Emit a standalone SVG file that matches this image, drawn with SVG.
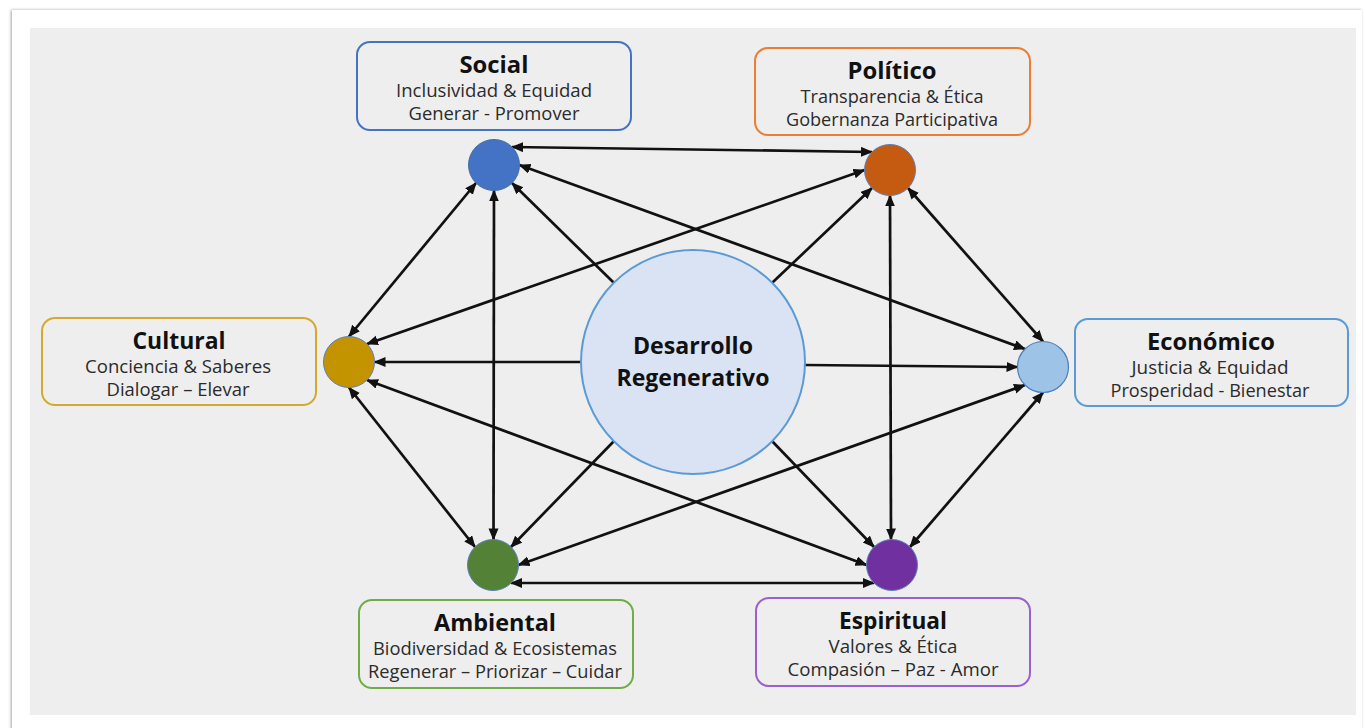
<svg xmlns="http://www.w3.org/2000/svg" width="1365" height="728" viewBox="0 0 1365 728">
<defs>
<marker id="ah" markerUnits="userSpaceOnUse" markerWidth="14" markerHeight="12" refX="11" refY="5" orient="auto-start-reverse">
<path d="M0,0 L12,5 L0,10 z" fill="#111"/>
</marker>
<filter id="sh" x="-2%" y="-2%" width="104%" height="104%">
<feDropShadow dx="-1" dy="0" stdDeviation="1.5" flood-color="#000" flood-opacity="0.35"/>
</filter>
</defs>
<style>
.box{fill:none;stroke-width:2;}
.t{font-family:"Open Sans","Noto Sans","DejaVu Sans",sans-serif;font-weight:bold;font-size:23px;fill:#111;text-anchor:middle;}
.s{font-family:"Open Sans","Noto Sans","DejaVu Sans",sans-serif;font-size:18px;fill:#2b2b2b;text-anchor:middle;}
.c{font-family:"Open Sans","Noto Sans","DejaVu Sans",sans-serif;font-weight:bold;font-size:24px;fill:#111;text-anchor:middle;}
.bi{stroke:#111;stroke-width:2.7;fill:none;marker-start:url(#ah);marker-end:url(#ah);}
.sp{stroke:#111;stroke-width:2.7;fill:none;marker-end:url(#ah);}
</style>
<rect x="0" y="0" width="1365" height="728" fill="#ffffff"/>
<rect x="12" y="10" width="1350" height="730" fill="#ffffff" filter="url(#sh)"/>
<rect x="30" y="28" width="1326" height="687" fill="#eeeeee"/>

<g id="connectors">
<line class="bi" x1="512" y1="147" x2="872" y2="152"/>
<line class="bi" x1="476" y1="183" x2="349" y2="336.5"/>
<line class="bi" x1="519.5" y1="165" x2="1025" y2="349"/>
<line class="bi" x1="494" y1="190.5" x2="493.5" y2="539.5"/>
<line class="bi" x1="864.5" y1="170" x2="367" y2="344"/>
<line class="bi" x1="908" y1="188" x2="1043" y2="341.5"/>
<line class="bi" x1="890" y1="195.5" x2="891" y2="539.5"/>
<line class="bi" x1="367" y1="380" x2="866.5" y2="565"/>
<line class="bi" x1="349" y1="387.5" x2="475" y2="547"/>
<line class="bi" x1="1025" y1="385" x2="518.5" y2="565"/>
<line class="bi" x1="1043" y1="392.5" x2="910" y2="547"/>
<line class="bi" x1="511" y1="583" x2="874" y2="583"/>
<line class="sp" x1="613.8" y1="282.8" x2="512" y2="183"/>
<line class="sp" x1="772.2" y1="282.8" x2="872" y2="188"/>
<line class="sp" x1="581" y1="362" x2="374.5" y2="362"/>
<line class="sp" x1="805" y1="365" x2="1017.5" y2="367"/>
<line class="sp" x1="613.8" y1="441.2" x2="511" y2="547"/>
<line class="sp" x1="772.2" y1="441.2" x2="874" y2="547"/>
</g>

<g id="center">
<circle cx="693" cy="362" r="112" fill="#dae3f3" stroke="#5b9bd5" stroke-width="2"/>
<text class="c" x="693" y="354" textLength="120" lengthAdjust="spacingAndGlyphs">Desarrollo</text>
<text class="c" x="693" y="386" textLength="153" lengthAdjust="spacingAndGlyphs">Regenerativo</text>
</g>

<g id="social">
<circle cx="494" cy="165" r="25.5" fill="#4472c4" stroke="#41719c" stroke-width="1"/>
<rect class="box" x="357" y="42" width="274" height="88" rx="13" stroke="#4472c4"/>
<text class="t" x="494" y="73" textLength="69" lengthAdjust="spacingAndGlyphs">Social</text>
<text class="s" x="494" y="97" textLength="196" lengthAdjust="spacingAndGlyphs">Inclusividad &amp; Equidad</text>
<text class="s" x="494" y="120" textLength="171" lengthAdjust="spacingAndGlyphs">Generar - Promover</text>
</g>

<g id="politico">
<circle cx="890" cy="170" r="25.5" fill="#c55a11" stroke="#5b7fb8" stroke-width="1"/>
<rect class="box" x="755" y="48" width="275" height="87" rx="13" stroke="#ed7d31"/>
<text class="t" x="892" y="79" textLength="89" lengthAdjust="spacingAndGlyphs">Político</text>
<text class="s" x="892" y="103" textLength="183" lengthAdjust="spacingAndGlyphs">Transparencia &amp; Ética</text>
<text class="s" x="892" y="126" textLength="212" lengthAdjust="spacingAndGlyphs">Gobernanza Participativa</text>
</g>

<g id="cultural">
<circle cx="349" cy="362" r="25.5" fill="#c49300" stroke="#5b7fb8" stroke-width="1"/>
<rect class="box" x="42" y="318" width="274" height="87" rx="13" stroke="#d4aa2e"/>
<text class="t" x="179" y="349" textLength="93" lengthAdjust="spacingAndGlyphs">Cultural</text>
<text class="s" x="178" y="373" textLength="186" lengthAdjust="spacingAndGlyphs">Conciencia &amp; Saberes</text>
<text class="s" x="178" y="396" textLength="143" lengthAdjust="spacingAndGlyphs">Dialogar – Elevar</text>
</g>

<g id="economico">
<circle cx="1043" cy="367" r="25.5" fill="#9dc3e6" stroke="#4a7ebb" stroke-width="1.2"/>
<rect class="box" x="1075" y="319" width="273" height="87" rx="13" stroke="#5b9bd5"/>
<text class="t" x="1211" y="350" textLength="128" lengthAdjust="spacingAndGlyphs">Económico</text>
<text class="s" x="1210" y="374" textLength="157" lengthAdjust="spacingAndGlyphs">Justicia &amp; Equidad</text>
<text class="s" x="1210" y="397" textLength="199" lengthAdjust="spacingAndGlyphs">Prosperidad - Bienestar</text>
</g>

<g id="ambiental">
<circle cx="493" cy="565" r="25.5" fill="#538135" stroke="#5b7fb8" stroke-width="1"/>
<rect class="box" x="359" y="600" width="274" height="88" rx="13" stroke="#70ad47"/>
<text class="t" x="495" y="631" textLength="122" lengthAdjust="spacingAndGlyphs">Ambiental</text>
<text class="s" x="495" y="655" textLength="244" lengthAdjust="spacingAndGlyphs">Biodiversidad &amp; Ecosistemas</text>
<text class="s" x="495" y="678" textLength="254" lengthAdjust="spacingAndGlyphs">Regenerar – Priorizar – Cuidar</text>
</g>

<g id="espiritual">
<circle cx="892" cy="565" r="25.5" fill="#7030a0" stroke="#5b7fb8" stroke-width="1"/>
<rect class="box" x="756" y="598" width="274" height="88" rx="13" stroke="#9a5fd0"/>
<text class="t" x="893" y="629" textLength="108" lengthAdjust="spacingAndGlyphs">Espiritual</text>
<text class="s" x="893" y="653" textLength="129" lengthAdjust="spacingAndGlyphs">Valores &amp; Ética</text>
<text class="s" x="893" y="676" textLength="211" lengthAdjust="spacingAndGlyphs">Compasión – Paz - Amor</text>
</g>
</svg>
